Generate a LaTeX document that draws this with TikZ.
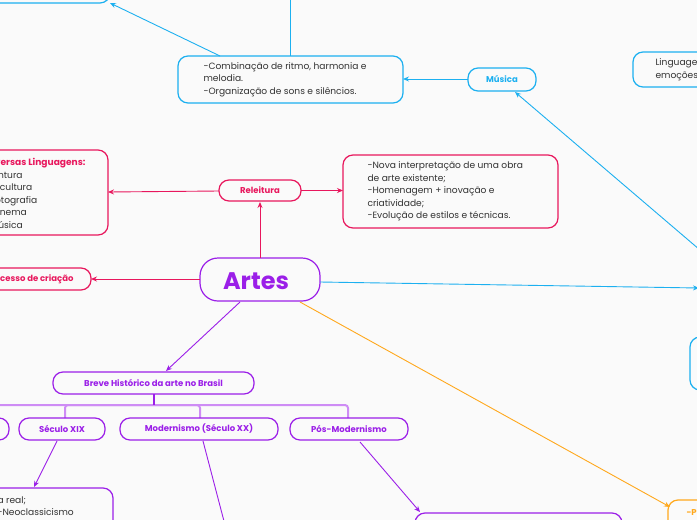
\documentclass[tikz,border=0pt]{standalone}
\usepackage{fontspec}
\setmainfont{Poppins}
\usetikzlibrary{arrows.meta}
\definecolor{pk}{HTML}{E8175D}
\definecolor{pu}{HTML}{9B1FE8}
\definecolor{lpu}{HTML}{CE8CF5}
\definecolor{cy}{HTML}{1CB0F0}
\definecolor{og}{HTML}{FFA81C}
\begin{document}
\begin{tikzpicture}[x=1pt,y=-1pt,
  box/.style={draw=#1,line width=1.2pt,rounded corners=10pt},
  ar/.style={draw=#1,line width=0.9pt,-{Stealth[length=6pt,width=5pt]}},
  ln/.style={draw=#1,line width=0.9pt},
  txt/.style={font=\fontsize{9.1}{12.5}\selectfont,align=left,text=black!80},
  ttl/.style={font=\fontsize{8.5}{12}\selectfont\bfseries,text=#1}]
\useasboundingbox (0,0) rectangle (697,520);
\clip (0,0) rectangle (697,520);
\fill[white!98!black] (0,0) rectangle (697,520);
% cyan region
\draw[box=cy] (-60,-40) rectangle (110,3);
\coordinate (tl) at (110,3);
\draw[box=cy] (178,56) rectangle (403,103);
\node[txt,anchor=west] (comb) at (200,79.5) {-Combinação de ritmo, harmonia e\\melodia.\\-Organização de sons e silêncios.};
\coordinate (combT) at (220,56);
\coordinate (combR) at (403,79);
\draw[ln=cy] (290,0) -- (290,56);
\draw[ar=cy] (combT) -- (tl);
\draw[box=cy] (468,68) rectangle (536,91);
\node[ttl=cy] (mus) at (502,79.5) {Música};
\draw[ar=cy] (468,79) -- (combR);
\draw[box=cy] (633,52) rectangle (760,87);
\node[txt,anchor=west] (ling) at (652,69.5) {Linguagem\\emoções};
\coordinate (offr) at (700,250);
\draw[ar=cy] (offr) -- (515,92);
\draw[box=cy] (690,337) rectangle (760,390);
% Artes
\draw[box=pu,rounded corners=18pt] (200,258) rectangle (320,301);
\node[font=\fontsize{24}{28}\selectfont\bfseries,text=pu] (artes) at (256,281) {Artes};
\coordinate (offr2) at (699,288);
\draw[ar=cy] (320,282) -- (offr2);
% pink
\draw[box=pk] (219,180) rectangle (301,201);
\node[ttl=pk] (rel) at (260,190.5) {Releitura};
\draw[ar=pk] (260,258) -- (260,202);
\draw[box=pk] (343,155) rectangle (558,228);
\node[txt,anchor=west] (nova) at (364,191.5) {-Nova interpretação de uma obra\\de arte existente;\\-Homenagem + inovação e\\criatividade;\\-Evolução de estilos e técnicas.};
\draw[ar=pk] (301,190.5) -- (343,190.5);
\draw[box=pk] (-80,150) rectangle (108,235);
\node[txt,anchor=north west] (div) at (-18,155) {\textcolor{pk}{\bfseries Diversas Linguagens:}\\-Pintura\\-Escultura\\-Fotografia\\-Cinema\\-Música};
\draw[ar=pk] (219,191) -- (108,192);
\draw[box=pk] (-60,268) rectangle (91,290);
\node[ttl=pk,anchor=east] (proc) at (77,279) {Processo de criação};
\draw[ar=pk] (200,279) -- (91,279);
% purple
\draw[ar=pu] (240,302) -- (166,371);
\draw[box=pu] (53,372) rectangle (254,394);
\node[ttl=pu] (breve) at (153.5,383) {Breve Histórico da arte no Brasil};
\draw[lpu,line width=2pt,rounded corners=3pt] (-10,405) -- (348,405) -- (348,418);
\draw[lpu,line width=2pt,rounded corners=3pt] (65,418) -- (65,405) -- (200,405) -- (200,418);
\draw[pu,line width=2pt] (154,394) -- (154,405);
\draw[box=pu] (-60,418) rectangle (9,440);
\draw[box=pu] (19,418) rectangle (105,440);
\node[ttl=pu] (s19) at (62,429) {Século XIX};
\draw[box=pu] (120,418) rectangle (278,440);
\node[ttl=pu] (mod) at (199,429) {Modernismo (Século XX)};
\draw[box=pu] (290,418) rectangle (408,440);
\node[ttl=pu] (pos) at (349,429) {Pós-Modernismo};
\draw[box=pu] (-60,488) rectangle (113,560);
\node[txt,anchor=north west] (s19t) at (-6,493) {a real;\\-Neoclassicismo};
\draw[ar=pu] (57,441) -- (34,487);
\draw[ln=pu] (203,441) -- (225,525);
\draw[box=pu] (415,513) rectangle (622,560);
\draw[ar=pu] (360,442) -- (420,512);
% orange
\draw[box=og] (668,500) rectangle (780,540);
\node[ttl=og,anchor=west] (p) at (683,513) {-P};
\draw[ar=og] (300,302) -- (670,507);
\end{tikzpicture}
\end{document}
